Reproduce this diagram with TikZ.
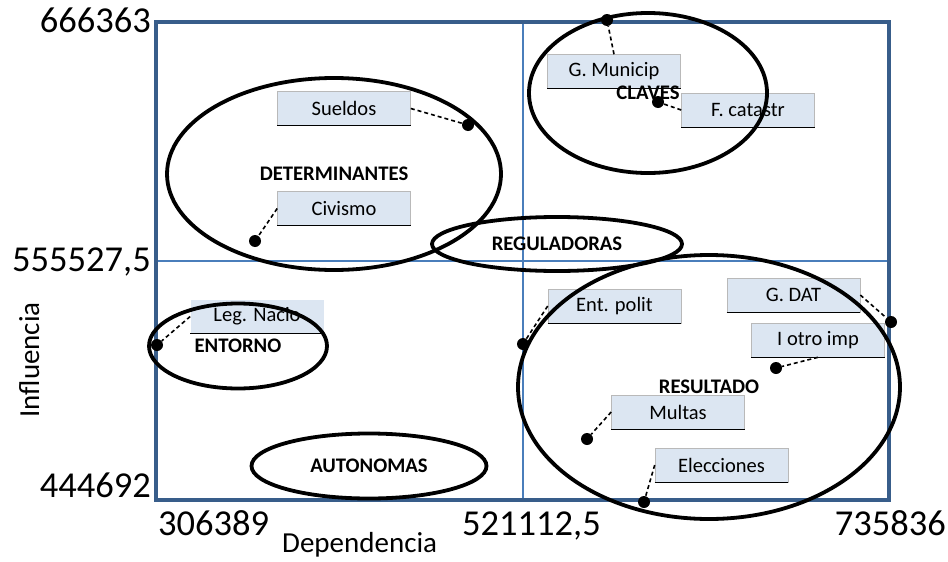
\documentclass[tikz,border=0pt]{standalone}
\usepackage{fontspec}
\setmainfont{Carlito}
\usetikzlibrary{shapes.geometric}
\definecolor{framecol}{HTML}{385D8A}
\definecolor{gridcol}{HTML}{4A7EBB}
\definecolor{boxfill}{HTML}{DCE6F2}
\tikzset{
  tick/.style={inner sep=0, font=\fontsize{36.5}{40}\selectfont},
  axtitle/.style={inner sep=0, font=\fontsize{29}{32}\selectfont},
  lbl/.style={draw=gray!55, line width=0.6pt, fill=boxfill, minimum width=133pt,
    minimum height=34pt, inner sep=0, font=\fontsize{20.5}{24}\selectfont},
  grp/.style={ellipse, draw=black, line width=3.8pt, inner sep=0,
    font=\bfseries\fontsize{20.7}{23}\selectfont},
  dot/.style={circle, fill=black, minimum size=12pt, inner sep=0},
  conn/.style={draw=black, line width=1.6pt, dash pattern=on 4pt off 3pt},
}
\begin{document}
\begin{tikzpicture}[x=1pt, y=-1pt]
\useasboundingbox (0,0) rectangle (948,562);

% quadrant grid and frame
\draw[gridcol, line width=1.6pt] (523,22) -- (523,500);
\draw[gridcol, line width=1.6pt] (156,261) -- (889,261);
\draw[framecol, line width=4pt] (156,22) rectangle (889,500);

% axis ticks
\node[tick, anchor=base east] (y1) at (151,32) {666363};
\node[tick, anchor=base east] (y2) at (151,271) {555527,5};
\node[tick, anchor=base east] (y3) at (151,497) {444692};
\node[tick, anchor=base west] (x1) at (158,535) {306389};
\node[tick, anchor=base west] (x2) at (462,535) {521112,5};
\node[tick, anchor=base east] (x3) at (946,535) {735836};
\node[axtitle, anchor=base west] (xt) at (282,552) {Dependencia};
\node[axtitle, anchor=base, rotate=90] (yt) at (39,360) {Influencia};

% variable boxes
\node[lbl] (sueldos) at (344,108.5) {Sueldos};
\node[lbl] (civismo) at (344,208.5) {Civismo};
\node[lbl] (gmun) at (614,71.5) {G. Municip};
\node[lbl] (fcat) at (748,110) {F. catastr};
\node[lbl, draw=none] (leg) at (257,316.5) {Leg. Nacio};
\node[lbl] (ent) at (614.5,306) {Ent. polit};
\node[lbl] (gdat) at (793.5,295) {G. DAT};
\node[lbl] (iotro) at (818,340) {I otro imp};
\node[lbl] (multas) at (678,412) {Multas};
\node[lbl] (elec) at (721.5,465) {Elecciones};
\foreach \b in {sueldos,civismo,gmun,fcat,leg,ent,gdat,iotro,multas,elec}
  \draw[black, line width=1.2pt] (\b.south west) -- (\b.south east);

% variable groups
\node[grp, minimum width=334pt, minimum height=192pt] (det) at (334,174) {DETERMINANTES};
\node[grp, minimum width=238pt, minimum height=160pt] (cla) at (648,93) {CLAVES};
\node[grp, minimum width=250pt, minimum height=54pt] (reg) at (557,244) {REGULADORAS};
\node[grp, minimum width=178pt, minimum height=85pt] (ento) at (238,346) {ENTORNO};
\node[grp, minimum width=235pt, minimum height=65pt] (auto) at (369,466) {AUTONOMAS};
\node[grp, minimum width=382pt, minimum height=264pt] (res) at (709,387) {RESULTADO};

% positions of the variables
\node[dot] (p1) at (468,125) {};
\node[dot] (p2) at (255,241) {};
\node[dot] (p3) at (607,20) {};
\node[dot] (p4) at (658,102) {};
\node[dot] (p5) at (157,345) {};
\node[dot] (p6) at (523,344) {};
\node[dot] (p7) at (891,322) {};
\node[dot] (p8) at (776,368) {};
\node[dot] (p9) at (587,439) {};
\node[dot] (p10) at (644,502) {};

\draw[conn] (sueldos.east) -- (p1);
\draw[conn] (civismo.west) -- (p2);
\draw[conn] (gmun.north) -- (p3);
\draw[conn] (fcat.west) -- (p4);
\draw[conn] (leg.west) -- (p5);
\draw[conn] (ent.west) -- (p6);
\draw[conn] (gdat.east) -- (p7);
\draw[conn] (iotro.south) -- (p8);
\draw[conn] (multas.west) -- (p9);
\draw[conn] (elec.west) -- (p10);
\end{tikzpicture}
\end{document}
